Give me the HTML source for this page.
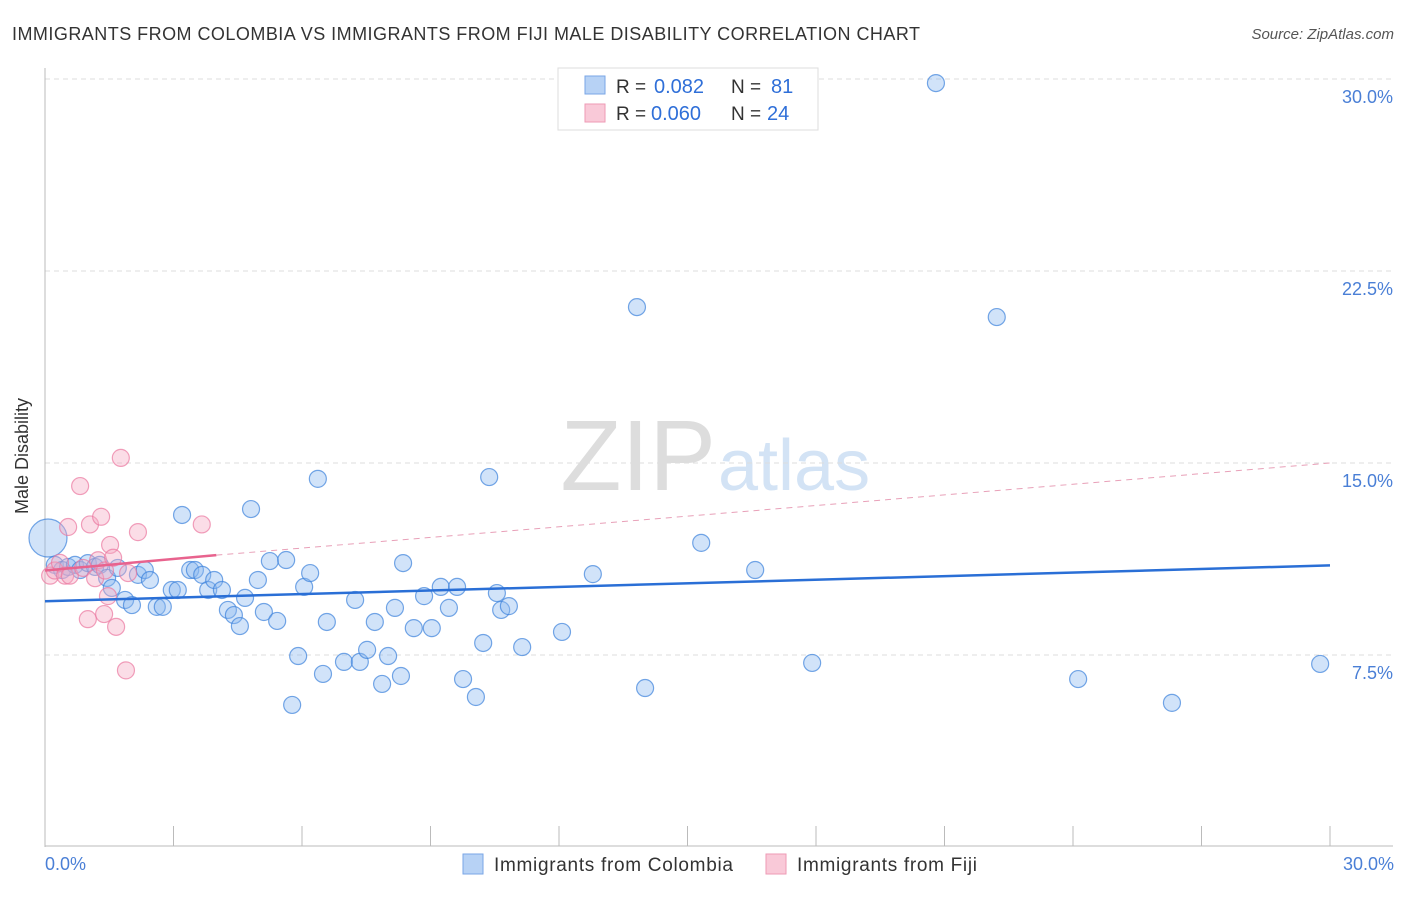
<!DOCTYPE html>
<html><head><meta charset="utf-8"><style>
body{margin:0;background:#fff;font-family:"Liberation Sans",sans-serif;}
svg text{font-family:"Liberation Sans",sans-serif;}
</style></head><body>
<svg width="1406" height="892">
<text x="12" y="40" font-size="18" fill="#333" textLength="908">IMMIGRANTS FROM COLOMBIA VS IMMIGRANTS FROM FIJI MALE DISABILITY CORRELATION CHART</text>
<text x="1394" y="39" font-size="15" font-style="italic" fill="#555" text-anchor="end">Source: ZipAtlas.com</text>
<text x="716" y="490" font-size="100" fill="#ddd" text-anchor="end" font-family="Liberation Serif">ZIP</text>
<text x="718" y="490" font-size="72" fill="#d3e3f5">atlas</text>
<g id="grid"></g>
<line x1="45" y1="68" x2="45" y2="847" stroke="#bbb"/>
<line x1="45" y1="846" x2="1393" y2="846" stroke="#bbb"/>
<g id="xticks"></g>
<text x="28" y="456" font-size="18" fill="#333" text-anchor="middle" transform="rotate(-90 28 456)">Male Disability</text>
<text x="45" y="870" font-size="18" fill="#4a7fd6">0.0%</text>
<text x="1394" y="870" font-size="18" fill="#4a7fd6" text-anchor="end">30.0%</text>
<g id="pts"></g>
<g id="trends"></g>
<g>
<rect x="558" y="68" width="260" height="62" fill="#fff" stroke="#ddd"/>
<rect x="585" y="76" width="20" height="18" fill="#b7d2f5" stroke="#7aa6e6"/>
<rect x="585" y="104" width="20" height="18" fill="#f9c9d8" stroke="#ee9ab5"/>
<text x="616" y="93" font-size="19" fill="#333">R =</text>
<text x="654" y="93" font-size="20" fill="#2f6fd8">0.082</text>
<text x="731" y="93" font-size="19" fill="#333">N =</text>
<text x="771" y="93" font-size="20" fill="#2f6fd8">81</text>
<text x="616" y="120" font-size="19" fill="#333">R =</text>
<text x="651" y="120" font-size="20" fill="#2f6fd8">0.060</text>
<text x="731" y="120" font-size="19" fill="#333">N =</text>
<text x="767" y="120" font-size="20" fill="#2f6fd8">24</text>
</g>
<g>
<rect x="463" y="854" width="20" height="20" fill="#b7d2f5" stroke="#7aa6e6"/>
<text x="494" y="871" font-size="19" fill="#333" textLength="239">Immigrants from Colombia</text></g>
<g>
<rect x="766" y="854" width="20" height="20" fill="#f9c9d8" stroke="#ee9ab5"/>
<text x="797" y="871" font-size="19" fill="#333" textLength="180">Immigrants from Fiji</text></g>
</svg>
<script>
const yTicks=[7.5,15,22.5,30];
const yTickLabels=["7.5%","15.0%","22.5%","30.0%"];
const xTicks=[0,3,6,9,12,15,18,21,24,27,30];
const colX=[0.07,0.23,0.40,0.54,0.70,0.82,1.00,1.17,1.28,1.45,1.56,1.70,1.87,2.03,2.17,2.33,2.45,2.61,2.75,2.96,3.10,3.20,3.39,3.50,3.67,3.81,3.95,4.13,4.27,4.41,4.55,4.67,4.81,4.97,5.11,5.25,5.42,5.63,5.77,5.91,6.05,6.19,6.37,6.49,6.58,6.98,7.24,7.35,7.52,7.70,7.87,8.01,8.17,8.31,8.36,8.61,8.85,9.03,9.24,9.43,9.62,9.76,10.06,10.23,10.37,10.55,10.65,10.83,11.14,12.07,12.79,13.82,14.01,15.32,16.58,17.91,20.80,22.22,24.12,26.31,29.77];
const colY=[12.07,11.02,10.82,10.94,11.02,10.82,11.09,10.94,11.02,10.51,10.12,10.90,9.65,9.45,10.63,10.82,10.43,9.38,9.38,10.04,10.04,12.97,10.82,10.82,10.63,10.04,10.43,10.04,9.26,9.06,8.63,9.73,13.20,10.43,9.18,11.17,8.83,11.21,5.55,7.46,10.16,10.70,14.38,6.76,8.79,7.23,9.65,7.23,7.70,8.79,6.37,7.46,9.34,6.68,11.09,8.55,9.80,8.55,10.16,9.34,10.16,6.56,5.86,7.97,14.45,9.92,9.26,9.41,7.81,8.40,10.66,21.09,6.21,11.88,10.82,7.19,29.84,20.70,6.56,5.63,7.15];
const fijiX=[0.12,0.23,0.35,0.47,0.58,0.54,0.82,0.89,1.00,1.05,1.17,1.24,1.31,1.38,1.40,1.47,1.52,1.59,1.66,1.77,1.89,1.94,2.17,3.66];
const fijiY=[10.6,10.8,11.1,10.6,10.6,12.5,14.1,10.9,8.9,12.6,10.5,11.2,12.9,9.1,10.8,9.8,11.8,11.3,8.6,15.2,6.9,10.7,12.3,12.6];
const colTrend=[9.6,11.0];
const fijiTrend=[10.8,11.4,15.0];
const NS="http://www.w3.org/2000/svg";
const X=v=>45+v/30*1285, Y=v=>847-v/7.5*192;
function mk(t,a,p){const e=document.createElementNS(NS,t);for(const k in a)e.setAttribute(k,a[k]);document.getElementById(p).appendChild(e);return e;}
yTicks.forEach((t,i)=>{
 const l=mk('line',{x1:45,x2:1393,y1:Y(t),y2:Y(t),stroke:'#ddd','stroke-dasharray':'5,4'},'grid');
 
 
 const tx=mk('text',{x:1393,y:Y(t)+24,'font-size':18,fill:'#4a7fd6','text-anchor':'end'},'grid');
 tx.textContent=yTickLabels[i];
 
 
});
xTicks.forEach(t=>{
 const l=mk('line',{x1:X(t),x2:X(t),y1:826,y2:846,stroke:'#bbb'},'xticks');
 
 
});
colX.forEach((v,i)=>{
 const c=mk('circle',{cx:X(v),cy:Y(colY[i]),r:i==0?19:8.5,fill:'rgba(140,185,240,0.4)',stroke:'rgba(60,130,220,0.7)','stroke-width':1.2},'pts');
 
 
});
fijiX.forEach((v,i)=>{
 const c=mk('circle',{cx:X(v),cy:Y(fijiY[i]),r:8.5,fill:'rgba(245,170,195,0.4)',stroke:'rgba(235,120,160,0.7)','stroke-width':1.2},'pts');
 
 
});
let t1=mk('line',{x1:X(0),y1:Y(colTrend[0]),x2:X(30),y2:Y(colTrend[1]),stroke:'#2a6fd6','stroke-width':2.5},'trends');


let t2=mk('line',{x1:X(0),y1:Y(fijiTrend[0]),x2:X(4),y2:Y(fijiTrend[1]),stroke:'#e8638e','stroke-width':2.5},'trends');


let t3=mk('line',{x1:X(4),y1:Y(fijiTrend[1]),x2:X(30),y2:Y(fijiTrend[2]),stroke:'#e8a0b8','stroke-width':1,'stroke-dasharray':'6,5'},'trends');


</script>
</body></html>
